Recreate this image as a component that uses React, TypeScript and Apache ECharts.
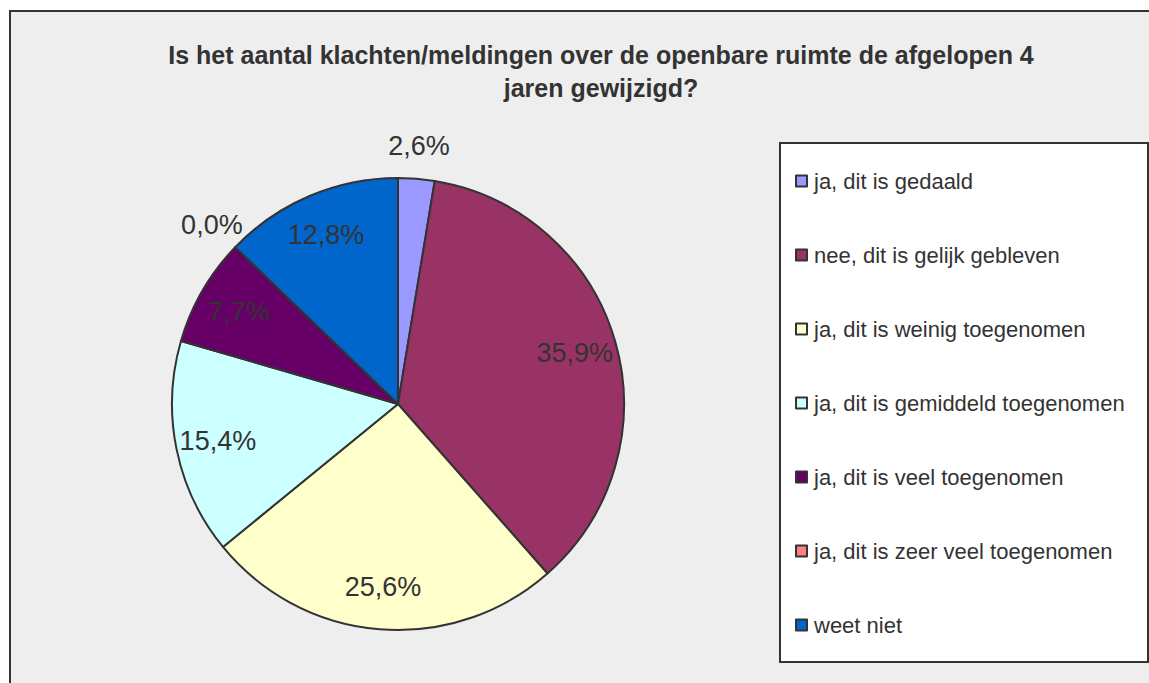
import React, { useEffect, useRef } from "react";
import * as echarts from "echarts";

const titleLines = [
  "Is het aantal klachten/meldingen over de openbare ruimte de afgelopen 4",
  "jaren gewijzigd?",
];
const categories = [
  "ja, dit is gedaald",
  "nee, dit is gelijk gebleven",
  "ja, dit is weinig toegenomen",
  "ja, dit is gemiddeld toegenomen",
  "ja, dit is veel toegenomen",
  "ja, dit is zeer veel toegenomen",
  "weet niet",
];
const values = [2.6, 35.9, 25.6, 15.4, 7.7, 0.0, 12.8];
const colors = ["#9999ff", "#993366", "#ffffcc", "#ccffff", "#660066", "#ff8080", "#0066cc"];
// labels drawn outside the pie (small slices)
const outsideLabel = [true, false, false, false, false, true, false];

const fmt = (v: number) => v.toFixed(1).replace(".", ",") + "%";

export default function App() {
  const ref = useRef<HTMLDivElement>(null);
  useEffect(() => {
    document.body.style.margin = "0";
    const chart = echarts.init(ref.current!, null, { renderer: "svg" });
    const cx = 398;
    const cy = 404;
    const R = 226;
    const labelFont = {
      fontFamily: "Liberation Sans, Arial, sans-serif",
      fontSize: 27,
      color: "#333333",
    };
    const mainData = categories.map((name, i) => ({
      name,
      value: values[i],
      itemStyle: { color: colors[i] },
    }));
    const overlay = (outside: boolean) =>
      categories.map((name, i) => ({
        name,
        value: values[i],
        label: { show: outsideLabel[i] === outside },
      }));
    chart.setOption({
      animation: false,
      backgroundColor: "#ffffff",
      graphic: [
        {
          type: "rect",
          z: -10,
          shape: { x: 10, y: 11, width: 1160, height: 700 },
          style: { fill: "#eeeeee", stroke: "#333333", lineWidth: 2 },
        },
        {
          type: "rect",
          z: -5,
          shape: { x: 780, y: 143, width: 368, height: 519 },
          style: { fill: "#ffffff", stroke: "#333333", lineWidth: 2 },
        },
        ...titleLines.map((t, i) => ({
          type: "text",
          x: 601,
          y: 55 + i * 33,
          style: {
            text: t,
            fill: "#333333",
            font: "bold 25px 'Liberation Sans', Arial, sans-serif",
            textAlign: "center",
            textVerticalAlign: "middle",
          },
        })),
      ],
      legend: {
        orient: "vertical",
        left: 795,
        top: 170,
        padding: 0,
        icon: "rect",
        itemWidth: 11,
        itemHeight: 11,
        itemGap: 52,
        selectedMode: false,
        data: categories,
        textStyle: {
          fontFamily: "Liberation Sans, Arial, sans-serif",
          fontSize: 22,
          color: "#333333",
          lineHeight: 22,
          padding: [0, 0, 0, 2],
        },
        itemStyle: { borderColor: "#333333", borderWidth: 2 },
      },
      series: [
        {
          type: "pie",
          center: [cx, cy],
          radius: [0, R],
          startAngle: 90,
          clockwise: true,
          silent: true,
          data: mainData,
          label: { show: false },
          labelLine: { show: false },
          itemStyle: { borderColor: "#333333", borderWidth: 2 },
          emphasis: { disabled: true },
        },
        {
          type: "pie",
          center: [cx, cy],
          radius: [0, R * 0.8 * 2],
          startAngle: 90,
          clockwise: true,
          silent: true,
          data: overlay(false),
          itemStyle: { color: "transparent", borderWidth: 0 },
          label: { position: "inside", formatter: (p: any) => fmt(p.value), ...labelFont },
          labelLine: { show: false },
          emphasis: { disabled: true },
        },
        {
          type: "pie",
          center: [cx, cy],
          radius: [0, R * 1.13 * 2],
          startAngle: 90,
          clockwise: true,
          silent: true,
          data: overlay(true),
          itemStyle: { color: "transparent", borderWidth: 0 },
          label: { position: "inside", formatter: (p: any) => fmt(p.value), ...labelFont },
          labelLine: { show: false },
          emphasis: { disabled: true },
        },
      ],
    });
    return () => chart.dispose();
  }, []);
  return <div ref={ref} style={{ width: 1149, height: 683 }} />;
}
